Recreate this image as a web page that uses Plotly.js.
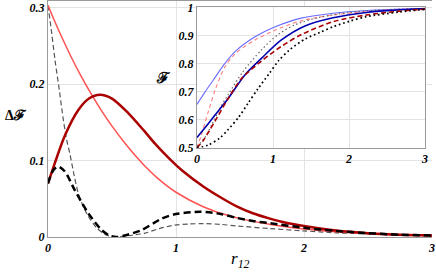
<!DOCTYPE html>
<html><head><meta charset="utf-8">
<script src="https://cdn.plot.ly/plotly-3.0.1.min.js"></script>
<style>html,body{margin:0;padding:0;background:#fff}#c{width:436px;height:272px}</style>
</head><body><div id="c"></div>
<script>
// ---- main plot: ΔF vs r12 ----
const lightRedR = [0, 0.05, 0.1, 0.185, 0.25, 0.341, 0.42, 0.5, 0.6, 0.68, 0.77, 0.862, 1.0, 1.2, 1.35, 1.5, 1.75, 2.0, 2.25, 2.5, 2.75, 3.0];
const lightRedV = [0.303, 0.283, 0.264, 0.234, 0.213, 0.186, 0.1645, 0.145, 0.123, 0.107, 0.0905, 0.076, 0.0585, 0.0405, 0.031, 0.024, 0.016, 0.0105, 0.007, 0.0045, 0.003, 0.002];

const darkRedR = [0, 0.05, 0.133, 0.237, 0.32, 0.406, 0.5, 0.627, 0.75, 0.836, 0.95, 1.05, 1.213, 1.35, 1.474, 1.6, 1.734, 1.85, 2.0, 2.25, 2.5, 2.75, 3.0];
const darkRedV = [0.070, 0.095, 0.133, 0.166, 0.181, 0.186, 0.181, 0.162, 0.139, 0.122, 0.102, 0.0865, 0.066, 0.0516, 0.040, 0.031, 0.024, 0.019, 0.0145, 0.0085, 0.005, 0.003, 0.002];

const blackDashR = [0, 0.04, 0.08, 0.13, 0.21, 0.315, 0.42, 0.48, 0.537, 0.6, 0.73, 0.888, 1.0, 1.19, 1.35, 1.474, 1.6, 1.734, 2.0, 2.25, 2.5, 2.75, 3.0];
const blackDashV = [0.070, 0.087, 0.092, 0.086, 0.061, 0.031, 0.009, 0.002, 0.0, 0.002, 0.009, 0.024, 0.030, 0.033, 0.030, 0.025, 0.021, 0.018, 0.012, 0.008, 0.005, 0.003, 0.002];

const grayDashR = [0, 0.03, 0.055, 0.09, 0.12, 0.146, 0.172, 0.205, 0.237, 0.275, 0.315, 0.38, 0.45, 0.53, 0.64, 0.758, 0.87, 0.99, 1.1, 1.213, 1.35, 1.474, 1.734, 2.0, 2.25, 2.5, 2.75, 3.0];
const grayDashV = [0.303, 0.265, 0.231, 0.19, 0.153, 0.127, 0.108, 0.08, 0.057, 0.04, 0.027, 0.012, 0.003, 0.0, 0.002, 0.005, 0.011, 0.0155, 0.017, 0.0175, 0.0165, 0.0145, 0.011, 0.008, 0.0055, 0.004, 0.0025, 0.0015];

// ---- inset: F vs r12 ----
const inLightBlueR = [0, 0.1, 0.215, 0.35, 0.5, 0.763, 1.03, 1.355, 1.79, 2.23, 2.6, 3.0];
const inLightBlueV = [0.655, 0.697, 0.742, 0.795, 0.843, 0.896, 0.932, 0.962, 0.98, 0.99, 0.994, 0.997];

const inLightRedR = [0, 0.05, 0.15, 0.25, 0.37, 0.5, 0.763, 1.03, 1.355, 1.79, 2.23, 2.6, 3.0];
const inLightRedV = [0.5, 0.54, 0.63, 0.715, 0.79, 0.835, 0.885, 0.92, 0.952, 0.974, 0.986, 0.992, 0.996];

const inGrayDotR = [0, 0.1, 0.2, 0.3, 0.41, 0.6, 0.85, 1.07, 1.3, 1.6, 2.0, 2.5, 3.0];
const inGrayDotV = [0.505, 0.535, 0.585, 0.64, 0.69, 0.77, 0.85, 0.905, 0.94, 0.965, 0.983, 0.993, 0.997];

const inDarkBlueR = [0, 0.1, 0.237, 0.41, 0.63, 0.85, 1.11, 1.42, 1.79, 2.23, 2.6, 3.0];
const inDarkBlueV = [0.537, 0.57, 0.617, 0.676, 0.76, 0.82, 0.885, 0.935, 0.964, 0.983, 0.991, 0.997];

const inDarkRedR = [0, 0.08, 0.16, 0.237, 0.41, 0.588, 0.85, 1.11, 1.38, 1.79, 2.23, 2.6, 3.0];
const inDarkRedV = [0.5, 0.525, 0.56, 0.595, 0.676, 0.748, 0.81, 0.862, 0.905, 0.95, 0.974, 0.986, 0.995];

const inBlackDotR = [0, 0.15, 0.3, 0.41, 0.55, 0.675, 0.8, 0.95, 1.07, 1.22, 1.42, 1.62, 1.79, 2.01, 2.23, 2.67, 3.0];
const inBlackDotV = [0.5, 0.51, 0.535, 0.565, 0.61, 0.66, 0.71, 0.765, 0.81, 0.85, 0.888, 0.912, 0.932, 0.952, 0.968, 0.985, 0.994];

const xTicks = [0, 1, 2, 3];
const yTicksMain = [0, 0.1, 0.2, 0.3];
const yTicksInset = [0.5, 0.6, 0.7, 0.8, 0.9, 1];

const SERIF = 'Liberation Serif, Times New Roman, DejaVu Serif, serif';
const tickFont = {family: SERIF, size: 12, style: 'italic', weight: 'bold', color: '#000'};

function tr(x, y, color, width, dash, xa, ya) {
  return {x: x, y: y, type: 'scatter', mode: 'lines', xaxis: xa, yaxis: ya,
    line: {color: color, width: width, dash: dash, shape: 'spline', smoothing: 0.8},
    hoverinfo: 'skip', showlegend: false};
}

const data = [
  tr(grayDashR, grayDashV, '#555555', 1.2, '5px,3px', 'x', 'y'),
  tr(lightRedR, lightRedV, '#ff5252', 1.5, 'solid', 'x', 'y'),
  tr(darkRedR, darkRedV, '#aa0000', 2.5, 'solid', 'x', 'y'),
  tr(blackDashR, blackDashV, '#000000', 2.5, '7px,4px', 'x', 'y'),
  tr(inLightBlueR, inLightBlueV, '#6a6aff', 1.1, 'solid', 'x2', 'y2'),
  tr(inLightRedR, inLightRedV, '#ff8080', 1.1, '4px,3px', 'x2', 'y2'),
  tr(inGrayDotR, inGrayDotV, '#666666', 1.2, '1.5px,2.5px', 'x2', 'y2'),
  tr(inDarkBlueR, inDarkBlueV, '#0000b0', 1.6, 'solid', 'x2', 'y2'),
  tr(inDarkRedR, inDarkRedV, '#aa0000', 1.6, '5px,3px', 'x2', 'y2'),
  tr(inBlackDotR, inBlackDotV, '#000000', 1.7, '1.7px,2.8px', 'x2', 'y2')
];

const axBase = {showline: true, linecolor: '#9a9a9a', linewidth: 1, ticks: '', showgrid: true,
  gridcolor: '#e3e3e3', gridwidth: 1, zeroline: false, tickfont: tickFont, fixedrange: true};

const layout = {
  width: 436, height: 272,
  margin: {l: 48, r: 4, t: 1, b: 35},
  paper_bgcolor: '#fff', plot_bgcolor: '#fff',
  showlegend: false,
  xaxis: Object.assign({}, axBase, {range: [0, 3], tickvals: xTicks, mirror: true, domain: [0, 1], anchor: 'y'}),
  yaxis: Object.assign({}, axBase, {range: [0, 0.3085], tickvals: yTicksMain, domain: [0, 1], anchor: 'x'}),
  xaxis2: Object.assign({}, axBase, {range: [0, 3], tickvals: xTicks, mirror: true, domain: [0.388, 0.982], anchor: 'y2'}),
  yaxis2: Object.assign({}, axBase, {range: [0.5, 1.002], tickvals: yTicksInset, mirror: true, domain: [0.378, 0.974], anchor: 'x2'}),
  annotations: [
    {text: '<i>r<sub>12</sub></i>', xref: 'paper', yref: 'paper', x: 0.5, y: -0.096, xanchor: 'center', yanchor: 'middle',
     showarrow: false, font: {family: SERIF, size: 17, color: '#000'}},
    {text: '<b>Δℱ</b>', xref: 'paper', yref: 'paper', x: -0.083, y: 0.513, xanchor: 'center', yanchor: 'middle',
     showarrow: false, font: {family: SERIF, size: 14, color: '#000'}},
    {text: '<b>ℱ</b>', xref: 'paper', yref: 'paper', x: 0.302, y: 0.674, xanchor: 'center', yanchor: 'middle',
     showarrow: false, font: {family: SERIF, size: 15, color: '#000'}}
  ]
};

Plotly.newPlot('c', data, layout, {displayModeBar: false, staticPlot: true});
</script>
</body></html>
